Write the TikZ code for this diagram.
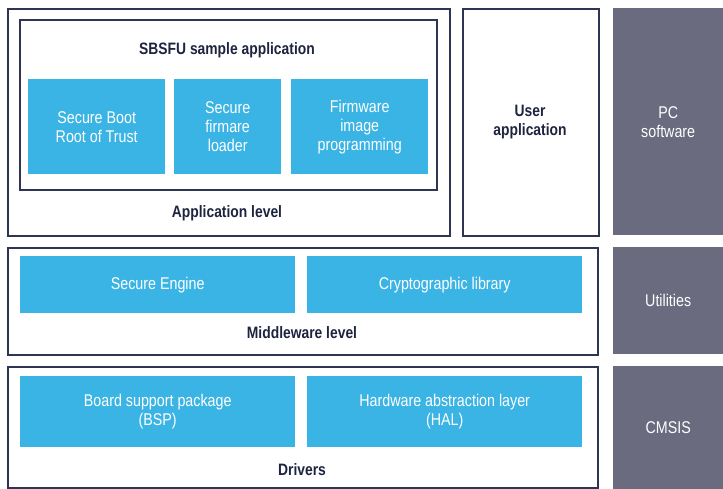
\documentclass[tikz,border=0pt]{standalone}
\usepackage{fontspec}
\setmainfont[FakeStretch=0.84]{Liberation Sans}
\definecolor{stblue}{HTML}{3AB4E4}
\definecolor{stgrey}{HTML}{6B6B80}
\definecolor{stnavy}{HTML}{2D3552}
\definecolor{sttext}{HTML}{1E2440}
\tikzset{
  frame/.style={draw=stnavy, line width=1.6pt, fill=white, anchor=north west, inner sep=0pt},
  bluebox/.style={fill=stblue, anchor=north west, inner sep=0pt, text=white, align=center, font=\fontsize{17}{19}\selectfont},
  greybox/.style={fill=stgrey, anchor=north west, inner sep=0pt, text=white, align=center, font=\fontsize{17}{19}\selectfont},
  lbl/.style={text=sttext, align=center, inner sep=0pt, font=\bfseries\fontsize{16.5}{19}\selectfont}
}
\begin{document}
\begin{tikzpicture}[x=1pt,y=-1pt]
\useasboundingbox[fill=white] (0,0) rectangle (723,489);
% application level
\node[frame, minimum width=442pt, minimum height=227pt] (app) at (7,8) {};
\node[frame, minimum width=417pt, minimum height=170pt] (sbsfu) at (19,19) {};
\node[bluebox, minimum width=137pt, minimum height=95pt] (sbrot) at (28,79) {Secure Boot\\Root of Trust};
\node[bluebox, minimum width=107pt, minimum height=95pt] (sfl) at (174,79) {Secure\\firmare\\loader};
\node[bluebox, minimum width=137pt, minimum height=95pt] (fip) at (291,79) {Firmware\\image\\programming};
\node[lbl] (sbsfulbl) at (227,50) {SBSFU sample application};
\node[lbl] (applbl) at (227,213) {Application level};
% user application
\node[frame, minimum width=136pt, minimum height=227pt] (user) at (462,8) {};
\node[lbl] (userlbl) at (530,122) {User\\application};
% PC software
\node[greybox, minimum width=110pt, minimum height=227pt] (pc) at (613,8) {PC\\software};
% middleware
\node[frame, minimum width=590pt, minimum height=107pt] (mid) at (7,247) {};
\node[bluebox, minimum width=275pt, minimum height=57pt] (se) at (20,256) {Secure Engine};
\node[bluebox, minimum width=275pt, minimum height=57pt] (crypto) at (307,256) {Cryptographic library};
\node[lbl] (midlbl) at (302,333) {Middleware level};
\node[greybox, minimum width=110pt, minimum height=107pt] (util) at (613,247) {Utilities};
% drivers
\node[frame, minimum width=590pt, minimum height=121pt] (drv) at (7,366) {};
\node[bluebox, minimum width=275pt, minimum height=71pt] (bsp) at (20,376) {Board support package\\(BSP)};
\node[bluebox, minimum width=275pt, minimum height=71pt] (hal) at (307,376) {Hardware abstraction layer\\(HAL)};
\node[lbl] (drvlbl) at (302,470) {Drivers};
\node[greybox, minimum width=110pt, minimum height=123pt] (cmsis) at (613,366) {CMSIS};
\end{tikzpicture}
\end{document}
